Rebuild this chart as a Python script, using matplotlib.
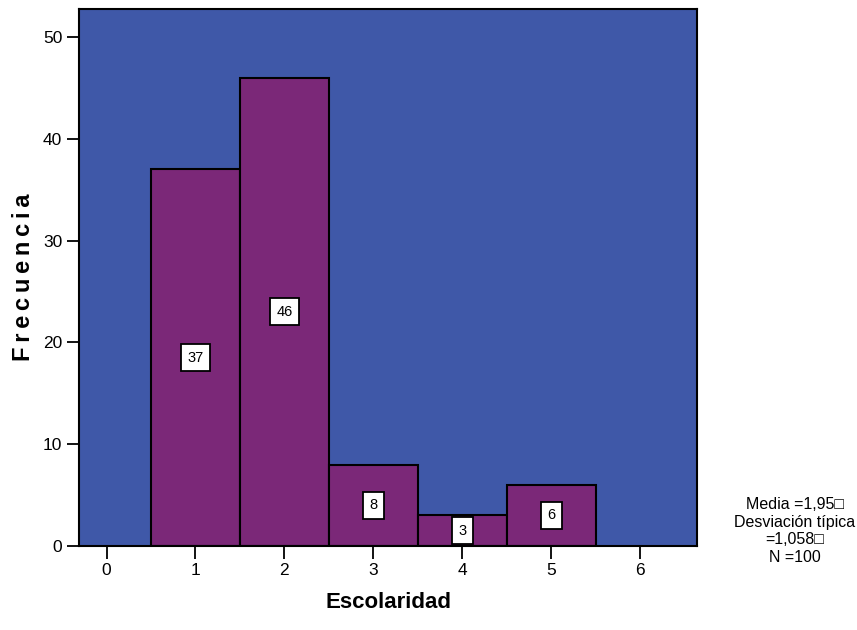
import matplotlib.pyplot as plt
import numpy as np

plt.rcParams['font.family'] = ['Liberation Sans', 'DejaVu Sans']

categorias = [1, 2, 3, 4, 5]
frecuencias = [37, 46, 8, 3, 6]
ticks_x = [0, 1, 2, 3, 4, 5, 6]
ticks_y = [0, 10, 20, 30, 40, 50]
estadisticos = "Media =1,95\u25a1\nDesviación típica\n=1,058\u25a1\nN =100"

fig = plt.figure(figsize=(8.57, 6.3), dpi=100)
ax = fig.add_axes([79 / 857, 1 - 546 / 630, (697 - 79) / 857, (546 - 9) / 630])

ax.set_facecolor('#3F58A8')
ax.bar(categorias, frecuencias, width=1.0, color='#7B2878', edgecolor='black', linewidth=1.5)

for x, v in zip(categorias, frecuencias):
    ax.text(x, v / 2, str(v), ha='center', va='center', fontsize=10.5,
            bbox=dict(boxstyle='square,pad=0.45', facecolor='white', edgecolor='black', linewidth=1.3))

ax.set_xlim(-0.31, 6.64)
ax.set_ylim(0, 52.75)
ax.set_xticks(ticks_x)
ax.set_yticks(ticks_y)
ax.tick_params(axis='both', direction='out', length=9, width=1.3, labelsize=12.5, pad=3)
for s in ax.spines.values():
    s.set_linewidth(1.5)

ax.set_xlabel("Escolaridad", fontsize=16, fontweight='bold', labelpad=10)
ax.set_ylabel("F\u2009r\u2009e\u2009c\u2009u\u2009e\u2009n\u2009c\u2009i\u2009a", fontsize=17, fontweight='bold',
              family=['Liberation Sans', 'DejaVu Sans'], labelpad=6)

fig.text(795 / 857, 1 - 531 / 630, estadisticos, ha='center', va='center',
         fontsize=11.5, linespacing=1.2)

fig.savefig('out.png', dpi=100)
